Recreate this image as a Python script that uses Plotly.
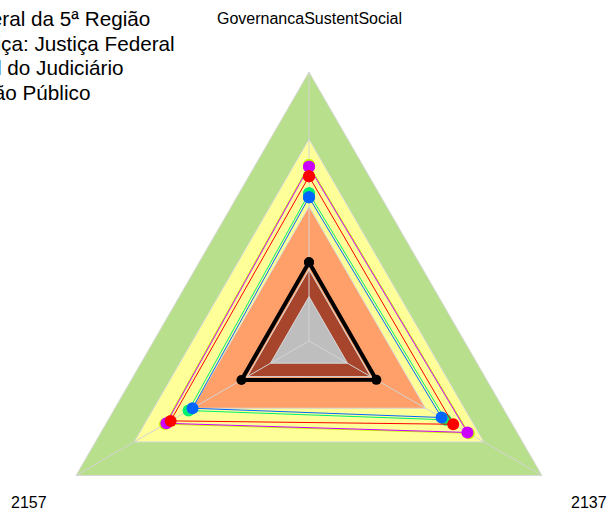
import numpy as np
import plotly.graph_objects as go

# radar data (fmsb-style order: top, then counter-clockwise)
axes_labels = ["GovernancaSustentSocial", "2157", "2137"]

band_limits = [100, 75, 50, 26.5, 16.5]
band_colors = ["#B8DF8C", "#FFFF99", "#FFA06A", "#A6442C", "#BEBEBE"]

series_names = [
    "Média da Administração Público",
    "Média do Ramo de Justiça: Justiça Federal",
    "Média Nacional do Judiciário",
    "Outros",
    "Média Geral",
    "Tribunal Regional Federal da 5ª Região",
]
series_values = [
    [65.4, 61.8, 68.6],   # chartreuse
    [64.8, 61.2, 68.0],   # magenta
    [54.9, 51.7, 58.6],   # spring green
    [53.4, 50.0, 56.9],   # blue
    [61.2, 59.4, 61.9],   # red
    [29.3, 29.0, 28.9],   # black
]
series_colors = ["#C8F000", "#CC00FF", "#00F070", "#0066FF", "#FF0000", "#000000"]

legend_lines = [
    "Tribunal Regional Federal da 5ª Região",
    "Média do Ramo de Justiça: Justiça Federal",
    "Média Nacional do Judiciário",
    "Média da Administração Público",
]

# page geometry (pixels)
W, H = 608, 514
CX, CY, RPX = 309, 341, 269

angles = np.deg2rad(90 + 120 * np.arange(len(axes_labels)))


def to_xy(values):
    r = np.asarray(values, dtype=float) / 100.0
    x = r * np.cos(angles)
    y = r * np.sin(angles)
    return np.append(x, x[0]), np.append(y, y[0])


fig = go.Figure()

# background bands
for limit, color in zip(band_limits, band_colors):
    x, y = to_xy([limit] * len(axes_labels))
    fig.add_trace(go.Scatter(
        x=x, y=y, mode="lines", fill="toself", fillcolor=color,
        line={"color": "#D9D9D9", "width": 1},
        hoverinfo="skip", showlegend=False,
    ))

# spokes
for a in angles:
    fig.add_trace(go.Scatter(
        x=[0, np.cos(a)], y=[0, np.sin(a)], mode="lines",
        line={"color": "#D3D3D3", "width": 1},
        hoverinfo="skip", showlegend=False,
    ))

# series
for name, vals, color in zip(series_names, series_values, series_colors):
    x, y = to_xy(vals)
    thick = color == "#000000"
    fig.add_trace(go.Scatter(
        x=x, y=y, mode="lines+markers", name=name,
        line={"color": color, "width": 4 if thick else 1},
        marker={"color": color, "size": 10 if thick else 12},
        showlegend=False,
    ))

# axis labels at 1.2 x radius
for label, a in zip(axes_labels, angles):
    fig.add_annotation(
        x=1.2 * np.cos(a), y=1.2 * np.sin(a), text=label, showarrow=False,
        xanchor="center", yanchor="middle",
        font={"family": "Liberation Sans, Arial", "size": 16, "color": "#000000"},
    )

# legend text (left part falls outside the page)
legend_right = [152, 177, 125, 92]
legend_y = [19, 43, 67.5, 92]
for text, xr, yc in zip(legend_lines, legend_right, legend_y):
    fig.add_annotation(
        xref="paper", yref="paper", x=xr / W, y=1 - yc / H, text=text,
        showarrow=False, xanchor="right", yanchor="middle",
        font={"family": "Liberation Sans, Arial", "size": 20.7, "color": "#000000"},
    )

fig.update_layout(
    width=W, height=H,
    margin={"l": 0, "r": 0, "t": 0, "b": 0, "autoexpand": False},
    paper_bgcolor="white", plot_bgcolor="white",
    xaxis={"range": [-CX / RPX, (W - CX) / RPX], "visible": False, "fixedrange": True},
    yaxis={"range": [-(H - CY) / RPX, CY / RPX], "visible": False, "fixedrange": True},
)

fig.write_html(
    "out.html",
    config={"displayModeBar": False},
    post_script="document.body.style.margin = '0px';",
)
